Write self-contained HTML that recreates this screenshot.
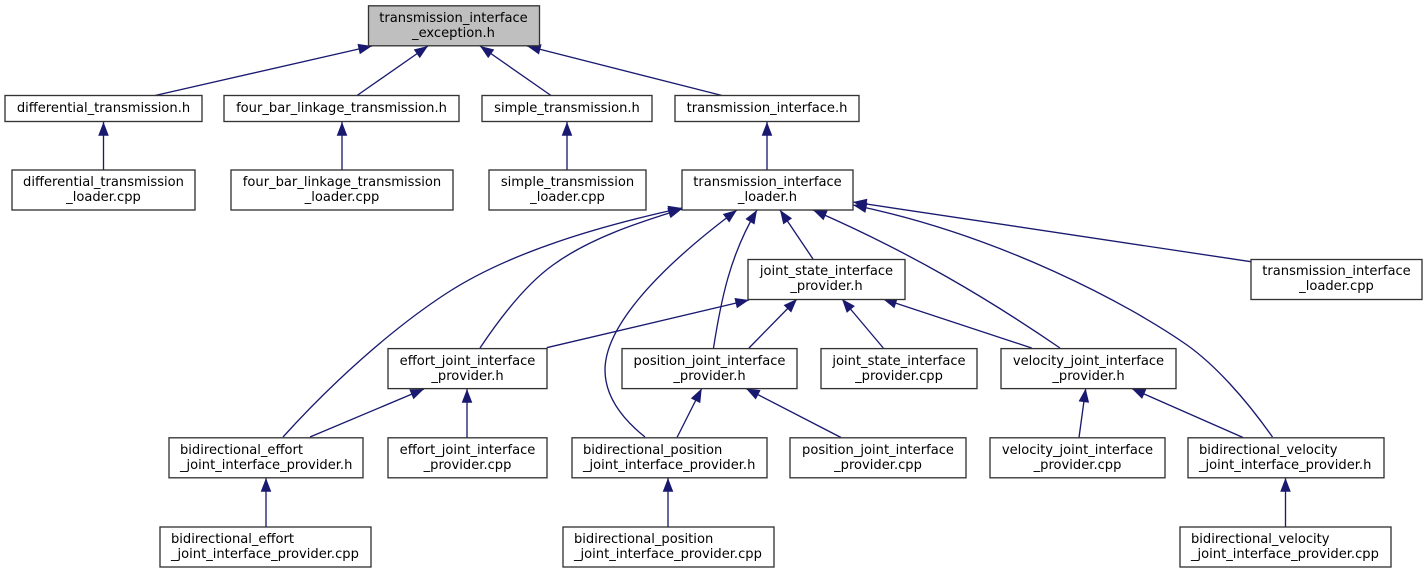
<!DOCTYPE html>
<html><head><meta charset="utf-8"><style>
html,body{margin:0;padding:0;background:#fff;width:1427px;height:573px;overflow:hidden}
svg{display:block}
text{font-family:"DejaVu Sans",sans-serif;font-size:13.08px;fill:#000}
.m{text-anchor:middle}
rect{fill:#fff;stroke:#333;stroke-width:1.33}
.e{fill:none;stroke:#191970;stroke-width:1.33}
</style></head><body>
<svg width="1427" height="573" viewBox="0 0 1427 573" xmlns="http://www.w3.org/2000/svg">
<defs><marker id="a" markerUnits="userSpaceOnUse" markerWidth="16" markerHeight="12" refX="14" refY="5.5" orient="auto"><path d="M0.3,0.2L14,5.5L0.3,10.8Z" fill="#191970"/></marker></defs>
<path class="e" marker-end="url(#a)" d="M155,95.5L372,46"/>
<path class="e" marker-end="url(#a)" d="M357,95.5L428,46"/>
<path class="e" marker-end="url(#a)" d="M551,95.5L480,46"/>
<path class="e" marker-end="url(#a)" d="M722,95.5L527,46"/>
<path class="e" marker-end="url(#a)" d="M103.5,170L103.5,122"/>
<path class="e" marker-end="url(#a)" d="M342,170L342,122"/>
<path class="e" marker-end="url(#a)" d="M567,170L567,122"/>
<path class="e" marker-end="url(#a)" d="M767,170L767,122"/>
<path class="e" marker-end="url(#a)" d="M283,437C330,385 390,330 447,293C510,252 600,226 682,208"/>
<path class="e" marker-end="url(#a)" d="M480,348C500,318 525,285 553,265C590,238 640,222 682,209"/>
<path class="e" marker-end="url(#a)" d="M645,437C620,417 605,395 605,370C605,330 650,275 737,210"/>
<path class="e" marker-end="url(#a)" d="M713.5,348C721,300 730,255 757,210"/>
<path class="e" marker-end="url(#a)" d="M813,259L780,210"/>
<path class="e" marker-end="url(#a)" d="M1060,348C990,300 910,252 813,210"/>
<path class="e" marker-end="url(#a)" d="M1272.5,437C1245,398 1215,365 1187,345C1130,305 1000,235 853,205"/>
<path class="e" marker-end="url(#a)" d="M1251,261.7L853,202"/>
<path class="e" marker-end="url(#a)" d="M546.7,347.7L749,300"/>
<path class="e" marker-end="url(#a)" d="M749,348L797,299"/>
<path class="e" marker-end="url(#a)" d="M883.3,348L842,299"/>
<path class="e" marker-end="url(#a)" d="M1031.7,348L883,299"/>
<path class="e" marker-end="url(#a)" d="M310,437L424,389"/>
<path class="e" marker-end="url(#a)" d="M467,437.5L467,389"/>
<path class="e" marker-end="url(#a)" d="M677,437.5L701.7,388.5"/>
<path class="e" marker-end="url(#a)" d="M841,437.5L746,388.5"/>
<path class="e" marker-end="url(#a)" d="M1079,437.5L1085.7,388.5"/>
<path class="e" marker-end="url(#a)" d="M1243,437.5L1131.7,388.5"/>
<path class="e" marker-end="url(#a)" d="M266,527L266,478"/>
<path class="e" marker-end="url(#a)" d="M668,527L668,478"/>
<path class="e" marker-end="url(#a)" d="M1285.5,527L1285.5,478"/>

<rect x="368.5" y="5.8" width="171" height="40" style="fill:#bfbfbf"/>
<text class="m" x="453.5" y="22">transmission_interface</text><text class="m" x="453.5" y="37">_exception.h</text>

<rect x="5" y="95.5" width="197" height="26"/><text class="m" x="103.5" y="112">differential_transmission.h</text>
<rect x="224" y="95.5" width="235" height="26"/><text class="m" x="341.5" y="112">four_bar_linkage_transmission.h</text>
<rect x="482" y="95.5" width="170" height="26"/><text class="m" x="567" y="112">simple_transmission.h</text>
<rect x="675" y="95.5" width="184" height="26"/><text class="m" x="767" y="112">transmission_interface.h</text>

<rect x="12" y="170" width="183" height="40"/><text class="m" x="103.5" y="186">differential_transmission</text><text class="m" x="103.5" y="201">_loader.cpp</text>
<rect x="231" y="170" width="222" height="40"/><text class="m" x="342" y="186">four_bar_linkage_transmission</text><text class="m" x="342" y="201">_loader.cpp</text>
<rect x="489" y="170" width="157" height="40"/><text class="m" x="567.5" y="186">simple_transmission</text><text class="m" x="567.5" y="201">_loader.cpp</text>
<rect x="682" y="170" width="171" height="40"/><text class="m" x="767.5" y="186">transmission_interface</text><text class="m" x="767.5" y="201">_loader.h</text>

<rect x="748" y="259.5" width="157" height="40"/><text class="m" x="826.5" y="275">joint_state_interface</text><text class="m" x="826.5" y="290">_provider.h</text>
<rect x="1251" y="259.5" width="171" height="40"/><text class="m" x="1336.5" y="275">transmission_interface</text><text class="m" x="1336.5" y="290">_loader.cpp</text>

<rect x="388" y="348.6" width="159" height="40"/><text class="m" x="467.5" y="365">effort_joint_interface</text><text class="m" x="467.5" y="380">_provider.h</text>
<rect x="622" y="348.6" width="175" height="40"/><text class="m" x="709.5" y="365">position_joint_interface</text><text class="m" x="709.5" y="380">_provider.h</text>
<rect x="821" y="348.6" width="156" height="40"/><text class="m" x="899" y="365">joint_state_interface</text><text class="m" x="899" y="380">_provider.cpp</text>
<rect x="1001" y="348.6" width="175" height="40"/><text class="m" x="1088.5" y="365">velocity_joint_interface</text><text class="m" x="1088.5" y="380">_provider.h</text>

<rect x="169" y="437.8" width="194" height="40"/><text x="180" y="454">bidirectional_effort</text><text x="180" y="469">_joint_interface_provider.h</text>
<rect x="388" y="437.8" width="159" height="40"/><text class="m" x="467.5" y="454">effort_joint_interface</text><text class="m" x="467.5" y="469">_provider.cpp</text>
<rect x="572" y="437.8" width="195" height="40"/><text x="583" y="454">bidirectional_position</text><text x="583" y="469">_joint_interface_provider.h</text>
<rect x="790" y="437.8" width="176" height="40"/><text class="m" x="878" y="454">position_joint_interface</text><text class="m" x="878" y="469">_provider.cpp</text>
<rect x="990" y="437.8" width="175" height="40"/><text class="m" x="1077.5" y="454">velocity_joint_interface</text><text class="m" x="1077.5" y="469">_provider.cpp</text>
<rect x="1188" y="437.8" width="196" height="40"/><text x="1199" y="454">bidirectional_velocity</text><text x="1199" y="469">_joint_interface_provider.h</text>

<rect x="160" y="527" width="211" height="40"/><text x="171" y="543">bidirectional_effort</text><text x="171" y="558">_joint_interface_provider.cpp</text>
<rect x="563" y="527" width="211" height="40"/><text x="574" y="543">bidirectional_position</text><text x="574" y="558">_joint_interface_provider.cpp</text>
<rect x="1180" y="527" width="211" height="40"/><text x="1191" y="543">bidirectional_velocity</text><text x="1191" y="558">_joint_interface_provider.cpp</text>
</svg>
</body></html>
